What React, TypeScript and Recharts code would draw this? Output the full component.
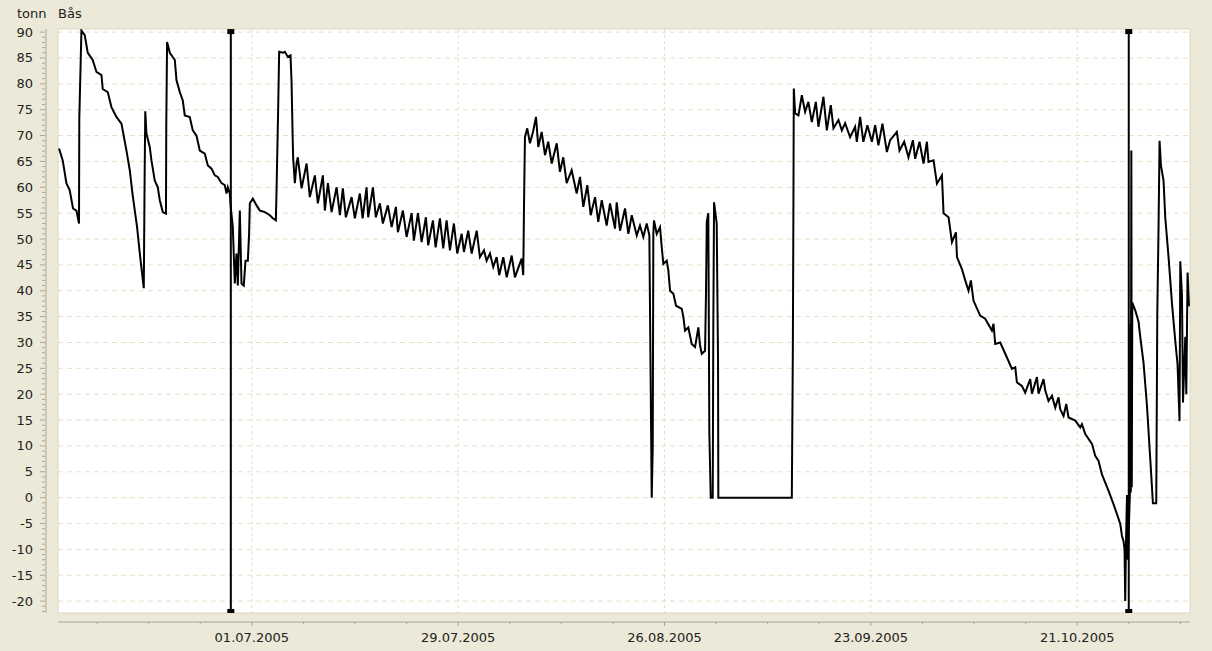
import React from 'react';
import { LineChart, Line, XAxis, YAxis, CartesianGrid, ReferenceArea, ReferenceLine } from 'recharts';

// Day offsets relative to 01.07.2005 and tonnes
const sampleDays = [
  -26.16, -25.66, -25.16, -24.71, -24.26, -23.8, -23.45, -23.41, -23.12, -22.67,
  -22.26, -21.59, -21.08, -20.4, -20.23, -19.55, -19.05, -18.37, -17.69, -17.01,
  -16.56, -16.2, -15.88, -15.57, -15.2, -14.97, -14.66, -14.55, -14.46, -14.3,
  -13.85, -13.62, -13.17, -12.76, -12.49, -12.08, -11.65, -11.61, -11.5, -11.13,
  -10.45, -10.22, -9.77, -9.37, -9.1, -8.42, -8.01, -7.51, -7.06, -6.38,
  -5.97, -5.47, -5.02, -4.62, -4.11, -3.67, -3.43, -3.26, -2.99, -2.85,
  -2.58, -2.31, -2.08, -1.9, -1.63, -1.4, -1.09, -0.86, -0.54, -0.37,
  -0.27, 0.14, 0.41, 0.64, 1.09, 1.76, 2.44, 2.85, 3.26, 3.35,
  3.57, 3.71, 4.21, 4.48, 4.89, 5.25, 5.39, 5.53, 5.61, 5.84,
  6.07, 6.24, 6.75, 7.43, 7.87, 8.55, 8.96, 9.64, 9.91, 10.32,
  10.82, 11.5, 11.95, 12.35, 12.76, 13.54, 13.98, 14.66, 15.03, 15.57,
  15.79, 16.43, 16.83, 17.38, 17.78, 18.46, 18.97, 19.55, 19.82, 20.5,
  21.0, 21.68, 21.99, 22.54, 23.04, 23.62, 23.93, 24.57, 24.94, 25.52,
  25.97, 26.43, 26.88, 27.42, 27.87, 28.47, 28.78, 29.36, 29.83, 30.51,
  30.95, 31.5, 31.86, 32.31, 32.76, 33.22, 33.57, 34.12, 34.58, 35.26,
  35.7, 36.61, 36.83, 36.93, 37.06, 37.37, 37.74, 38.15, 38.56, 38.87,
  39.33, 39.78, 40.22, 40.69, 41.37, 41.81, 42.26, 42.72, 43.4, 44.08,
  44.53, 44.98, 45.52, 45.98, 46.57, 47.01, 47.48, 48.15, 48.6, 49.28,
  49.51, 49.96, 50.64, 51.09, 51.55, 52.23, 52.67, 53.12, 53.58, 53.94,
  54.1, 54.26, 54.4, 54.48, 54.57, 54.94, 55.39, 55.62, 55.84, 56.3,
  56.52, 56.75, 57.2, 57.56, 58.34, 58.56, 58.78, 59.23, 59.69, 60.14,
  60.59, 60.82, 61.05, 61.5, 61.63, 61.73, 61.94, 62.08, 62.27, 62.54,
  62.62, 62.72, 63.08, 63.26, 63.3, 73.27, 73.41, 73.49, 73.54, 73.72,
  74.17, 74.63, 75.07, 75.52, 75.98, 76.53, 76.88, 77.56, 78.02, 78.56,
  78.92, 79.6, 80.06, 80.5, 81.18, 81.86, 82.09, 82.54, 82.98, 83.53,
  84.13, 84.58, 85.02, 85.57, 86.17, 86.61, 87.52, 87.88, 88.52, 89.1,
  89.7, 90.01, 90.6, 91.14, 91.6, 91.82, 92.5, 92.96, 93.64, 93.86,
  94.54, 95.0, 95.54, 95.68, 96.35, 96.8, 97.25, 97.57, 97.92, 98.83,
  99.51, 100.42, 100.64, 100.87, 101.55, 102.46, 103.14, 103.59, 103.81, 104.49,
  104.94, 105.62, 105.85, 106.53, 106.75, 107.43, 107.66, 108.1, 108.57, 109.02,
  109.46, 109.69, 110.14, 110.51, 110.82, 111.73, 112.41, 112.64, 113.09, 114.0,
  114.44, 114.89, 115.35, 116.25, 116.93, 117.39, 117.84, 118.07, 118.28, 118.42,
  118.51, 118.61, 118.75, 118.86, 119.14, 119.2, 119.27, 119.34, 119.4, 119.47,
  119.87, 120.32, 120.55, 121.0, 121.46, 121.91, 122.27, 122.72, 122.79, 122.86,
  123.03, 123.17, 123.36, 123.71, 123.94, 124.39, 124.85, 125.3, 125.61, 125.88,
  125.98, 126.21, 126.35, 126.66, 126.8, 126.97, 127.16,
];

const sampleTonnes = [
  67.5, 65.2, 60.8, 59.4, 55.9, 55.5, 53.0, 73.3, 90.3, 89.4,
  86.0, 84.6, 82.3, 81.7, 79.0, 78.4, 75.5, 73.6, 72.3, 67.1,
  63.3, 58.8, 55.5, 52.3, 47.2, 44.3, 40.5, 61.0, 74.7, 70.4,
  67.8, 65.2, 61.3, 60.0, 57.5, 55.2, 54.9, 71.6, 88.1, 86.0,
  84.6, 80.7, 78.4, 76.8, 73.9, 73.6, 71.0, 70.0, 67.1, 66.5,
  64.2, 63.6, 62.3, 62.0, 60.8, 60.4, 58.8, 60.0, 58.8, 56.0,
  52.3, 41.4, 47.2, 41.0, 55.5, 41.4, 41.0, 45.8, 45.8, 51.0,
  56.9, 57.8, 57.1, 56.5, 55.5, 55.2, 54.6, 54.0, 53.6, 59.1,
  74.9, 86.2, 86.0, 86.2, 85.2, 85.5, 80.4, 70.4, 65.6, 60.8,
  64.6, 65.8, 59.8, 64.6, 58.1, 62.3, 56.9, 62.3, 55.5, 60.8,
  55.2, 60.0, 54.6, 59.8, 54.2, 58.1, 54.0, 58.8, 54.0, 60.0,
  54.2, 60.0, 54.2, 56.9, 53.0, 56.5, 52.3, 56.2, 51.3, 55.5,
  50.4, 55.0, 49.7, 55.0, 49.4, 54.2, 48.8, 53.6, 48.4, 54.0,
  48.2, 53.6, 47.8, 53.0, 47.2, 51.0, 47.5, 51.6, 47.2, 51.6,
  46.5, 47.8, 45.8, 47.2, 44.6, 46.5, 43.0, 46.5, 42.6, 46.8,
  42.6, 46.2, 43.0, 56.2, 69.7, 71.4, 68.5, 70.7, 73.6, 67.8,
  70.7, 66.2, 68.8, 64.6, 68.5, 63.0, 65.8, 60.8, 63.3, 58.8,
  62.0, 56.2, 60.4, 54.6, 58.1, 53.3, 57.5, 52.6, 56.9, 52.0,
  57.1, 51.6, 55.9, 51.0, 54.6, 50.7, 52.6, 50.4, 53.0, 50.7,
  25.2, 0, 9.7, 51.0, 53.6, 51.0, 52.3, 48.4, 45.2, 45.8,
  43.9, 40.0, 39.4, 37.1, 36.5, 34.9, 32.3, 32.9, 29.7, 29.1,
  32.9, 29.4, 27.8, 28.4, 40.0, 53.3, 55.0, 12.4, 0, 0,
  33.6, 57.1, 53.0, 26.5, 0, 0, 28.4, 56.9, 79.1, 74.3,
  73.9, 77.8, 74.6, 76.5, 72.6, 76.5, 71.7, 77.5, 71.0, 75.9,
  71.4, 73.0, 71.0, 72.4, 69.7, 71.7, 68.8, 73.6, 68.8, 72.0,
  68.8, 72.0, 68.1, 72.3, 66.8, 69.1, 70.7, 67.1, 68.8, 65.8,
  69.1, 65.5, 68.8, 64.6, 68.8, 64.9, 65.2, 60.7, 62.3, 55.0,
  54.2, 49.4, 51.3, 46.5, 44.2, 42.0, 40.0, 42.0, 38.1, 35.2,
  34.6, 32.3, 33.6, 29.7, 30.0, 27.1, 24.9, 25.2, 22.3, 21.6,
  20.3, 22.9, 20.1, 23.3, 20.1, 22.9, 20.7, 18.7, 19.7, 17.4,
  19.4, 17.1, 15.8, 18.1, 15.5, 14.9, 13.6, 14.2, 12.3, 10.4,
  8.1, 7.1, 4.5, 1.3, -1.3, -3.2, -5.1, -7.4, -8.4, -10.0,
  -20.0, -9.0, 0.5, -12.0, 0.5, 33.6, 1.0, 67.1, 2.0, 37.7,
  36.2, 34.0, 31.1, 26.0, 17.8, 7.4, -1.1, -1.1, 17.0, 35.4,
  52.0, 69.0, 64.2, 61.3, 54.2, 46.5, 37.6, 30.3, 25.8, 14.8,
  45.7, 39.1, 18.4, 31.1, 20.0, 43.5, 37.0,
];

// Event markers (vertical bars with square ends)
const markerDays = [-2.85, 118.99];
const markerTop = 90.1;
const markerBottom = -22.0;

// Axis ticks
const weekTicks = [-21, -14, -7, 0, 7, 14, 21, 28, 35, 42, 49, 56, 63, 70, 77, 84, 91, 98, 105, 112, 119, 126];
const labelDays = [0, 28, 56, 84, 112];
const yGridValues = [-20, -15, -10, -5, 0, 5, 10, 15, 20, 25, 30, 35, 40, 45, 50, 55, 60, 65, 70, 75, 80, 85, 90];
const yMinorTicks = Array.from({ length: 113 }, (_, i) => i - 22);

const X_DOMAIN: [number, number] = [-26.3, 127.3];
const Y_DOMAIN: [number, number] = [-22.3, 90.6];

// layout (pixels)
const CHART_W = 1212;
const CHART_H = 651;
const M_TOP = 29;
const M_RIGHT = 22;
const Y_AXIS_W = 58;
const X_AXIS_H = 38;
const Y_GAP = 12; // gap between the y axis line and the plot
const X_GAP = 9; // gap between the plot and the x axis line
const PLOT_W = CHART_W - Y_AXIS_W - M_RIGHT;
const PLOT_H = CHART_H - M_TOP - X_AXIS_H;
const Y_LINE_PX = Y_AXIS_W - Y_GAP;
const X_LINE_PX = CHART_H - X_AXIS_H + X_GAP;

// detached axis lines, expressed in axis units
const yAxisLineX = X_DOMAIN[0] - (Y_GAP * (X_DOMAIN[1] - X_DOMAIN[0])) / PLOT_W;
const xAxisLineY = Y_DOMAIN[0] - (X_GAP * (Y_DOMAIN[1] - Y_DOMAIN[0])) / PLOT_H;

const FONT = '"DejaVu Sans", Verdana, sans-serif';
const TEXT = '#222222';
const AXIS = '#A9A692';
const GRID = '#E5E0C6';
const BG = '#ECE9D8';

const seriesData = sampleDays.map((d, i) => ({ d, t: sampleTonnes[i] }));
const markerData = markerDays.map((d) => [
  { d, t: markerTop },
  { d, t: markerBottom },
]);

function fmtDate(day: number): string {
  const dt = new Date(Date.UTC(2005, 6, 1) + Math.round(day) * 86400000);
  const dd = String(dt.getUTCDate()).padStart(2, '0');
  const mm = String(dt.getUTCMonth() + 1).padStart(2, '0');
  return `${dd}.${mm}.${dt.getUTCFullYear()}`;
}

const XTick = (props: any) => {
  const { x, payload } = props;
  const v = payload.value;
  const major = labelDays.includes(v);
  const ay = X_LINE_PX;
  return (
    <g>
      <line x1={x} x2={x} y1={ay} y2={ay + (major ? 4 : 2)} stroke={AXIS} />
      {major && (
        <text x={x} y={ay + 20} textAnchor="middle" fontFamily={FONT} fontSize={13} fill={TEXT}>
          {fmtDate(v)}
        </text>
      )}
    </g>
  );
};

const YTick = (props: any) => {
  const { y, payload } = props;
  const v = payload.value;
  const major = v % 5 === 0;
  const ax = Y_LINE_PX;
  return (
    <g>
      <line x1={ax - (major ? 6 : 4)} x2={ax - 1} y1={y} y2={y} stroke={AXIS} />
      {major && (
        <text x={ax - 13} y={y + 4.5} textAnchor="end" fontFamily={FONT} fontSize={13} fill={TEXT}>
          {v}
        </text>
      )}
    </g>
  );
};

const SquareDot = (props: any) => {
  const { cx, cy } = props;
  if (cx == null || cy == null) return null;
  return <rect x={cx - 3.5} y={cy - 2.5} width={7} height={5} fill="#000" />;
};

export default function App() {
  return (
    <div style={{ position: 'absolute', left: 0, top: 0, width: CHART_W, height: CHART_H, background: BG, overflow: 'hidden' }}>
      <span style={{ position: 'absolute', left: 17, top: 6, fontFamily: FONT, fontSize: 13, lineHeight: '15px', color: TEXT }}>tonn</span>
      <span style={{ position: 'absolute', left: 58, top: 6, fontFamily: FONT, fontSize: 13, lineHeight: '15px', color: TEXT }}>Bås</span>
      <LineChart width={CHART_W} height={CHART_H} data={seriesData} margin={{ top: M_TOP, right: M_RIGHT, bottom: 0, left: 0 }}>
        <XAxis
          dataKey="d"
          type="number"
          domain={X_DOMAIN}
          allowDataOverflow
          ticks={weekTicks}
          interval={0}
          height={X_AXIS_H}
          tickSize={0}
          tickMargin={0}
          tickLine={false}
          axisLine={false}
          tick={<XTick />}
        />
        <YAxis
          type="number"
          domain={Y_DOMAIN}
          allowDataOverflow
          ticks={yMinorTicks}
          interval={0}
          width={Y_AXIS_W}
          tickSize={0}
          tickMargin={0}
          tickLine={false}
          axisLine={false}
          tick={<YTick />}
        />
        <CartesianGrid fill="#FFFFFF" stroke={GRID} strokeDasharray="5 4" vertical={false} horizontalValues={yGridValues} />
        <CartesianGrid stroke={GRID} strokeDasharray="3 3" horizontal={false} verticalValues={labelDays} />
        <ReferenceArea x1={X_DOMAIN[0]} x2={X_DOMAIN[1]} y1={Y_DOMAIN[0]} y2={Y_DOMAIN[1]} fill="none" stroke="#D9D5C2" />
        <ReferenceLine x={yAxisLineX} ifOverflow="visible" stroke={AXIS} strokeWidth={1} />
        <ReferenceLine y={xAxisLineY} ifOverflow="visible" stroke={AXIS} strokeWidth={1} />
        {markerData.map((md, i) => (
          <Line
            key={'m' + i}
            data={md}
            dataKey="t"
            type="linear"
            stroke="#000"
            strokeWidth={2}
            dot={<SquareDot />}
            activeDot={false}
            isAnimationActive={false}
          />
        ))}
        <Line dataKey="t" type="linear" stroke="#000" strokeWidth={2} dot={false} activeDot={false} isAnimationActive={false} />
      </LineChart>
    </div>
  );
}
